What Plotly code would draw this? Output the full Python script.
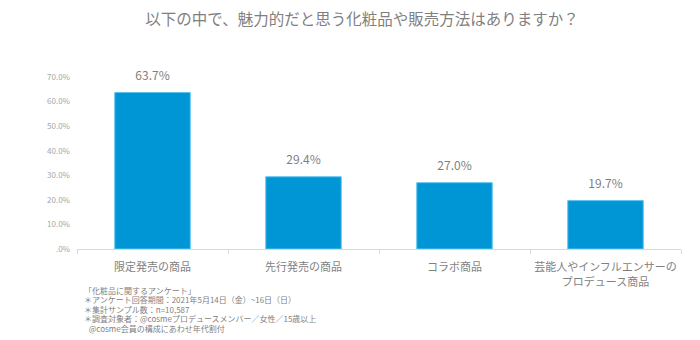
import plotly.graph_objects as go

categories = ["限定発売の商品", "先行発売の商品", "コラボ商品", "芸能人やインフルエンサーの<br>プロデュース商品"]
values = [63.7, 29.4, 27.0, 19.7]
ytick_vals = [0, 10, 20, 30, 40, 50, 60, 70]
ytick_text = [".0%", "10.0%", "20.0%", "30.0%", "40.0%", "50.0%", "60.0%", "70.0%"]
title_text = "以下の中で、魅力的だと思う化粧品や販売方法はありますか？"
footnotes = [
    "「化粧品に関するアンケート」",
    "＊アンケート回答期間：2021年5月14日（金）~16日（日）",
    "＊集計サンプル数：n=10,587",
    "＊調査対象者：@cosmeプロデュースメンバー／女性／15歳以上",
    " @cosme会員の構成にあわせ年代割付",
]

FONT = "Noto Sans CJK JP, Noto Sans, sans-serif"
GRAY = "#7f7f7f"
TOP, BASE = 77, 249

fig = go.Figure()
fig.add_trace(go.Bar(
    x=categories, y=values,
    marker=dict(color="#0096D6", line=dict(color="#5FC3EE", width=1)),
    hoverinfo="skip",
))
fig.add_trace(go.Scatter(
    x=categories, y=values, mode="markers+text",
    marker=dict(size=14, opacity=0),
    texttemplate="%{y:.1f}%", textposition="top center",
    textfont=dict(size=12, color=GRAY, family=FONT),
    cliponaxis=False,
))

annotations = []
foot_y = [290, 299.5, 309, 318.5, 328]
foot_x = [82, 82, 82, 82, 85]
for t, yy, xx in zip(footnotes, foot_y, foot_x):
    annotations.append(dict(
        text=t, xref="paper", yref="paper",
        x=(xx - 77) / (681 - 77), y=(BASE - yy) / (BASE - TOP),
        xanchor="left", yanchor="middle", showarrow=False,
        font=dict(size=8, color=GRAY, family=FONT),
    ))

fig.update_layout(
    width=700, height=340,
    margin=dict(l=77, r=19, t=TOP, b=340 - BASE, autoexpand=False),
    paper_bgcolor="white", plot_bgcolor="white",
    title=dict(text=title_text, x=362 / 700, xanchor="center", xref="container",
               y=1 - 20 / 340, yanchor="middle", yref="container",
               font=dict(size=15.5, color=GRAY, family=FONT)),
    bargap=0.5,
    showlegend=False,
    annotations=annotations,
    font=dict(family=FONT, color=GRAY),
)
fig.update_xaxes(
    showline=True, linecolor="#D9D9D9", linewidth=1,
    ticks="outside", tickson="boundaries", ticklen=4, tickcolor="#D9D9D9",
    tickfont=dict(size=11, color=GRAY, family=FONT),
    tickangle=0, automargin=False, ticklabelstandoff=8,
    showgrid=False,
)
fig.update_yaxes(
    range=[0, 70], tickvals=ytick_vals, ticktext=ytick_text,
    showgrid=False, zeroline=False, showline=False,
    tickfont=dict(size=8, color="#A6A6A6", family=FONT),
    ticks="", ticklabelstandoff=6, automargin=False,
)

fig.write_html("out.html")
